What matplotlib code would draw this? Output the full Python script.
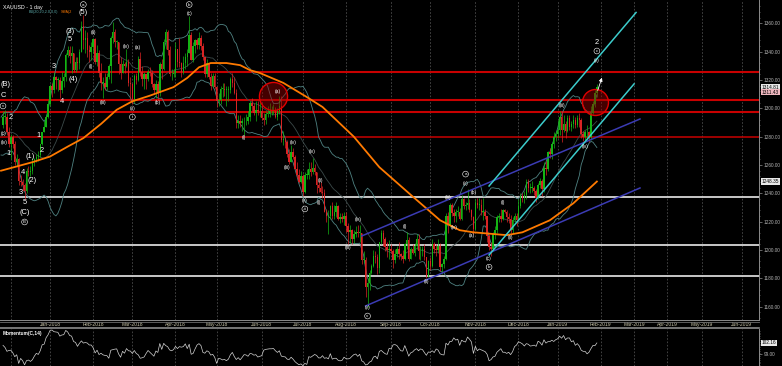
import matplotlib

matplotlib.use("Agg")

import matplotlib.pyplot as plt
import numpy as np
import pandas as pd
from matplotlib.lines import Line2D

plt.rcParams["font.family"] = ["Liberation Sans", "DejaVu Sans"]

W, H, DPI = 782, 366, 100

# ---------------------------------------------------------------------------
# data (XAUUSD daily)
# ---------------------------------------------------------------------------
HOLIDAYS = ["2017-12-25", "2018-01-01", "2018-12-25", "2019-01-01"]
FIRST_BAR = "2017-10-30"      # 20 warm-up closes for BB / momentum
FIRST_SHOWN = "2017-11-27"

closes = [
    # warm-up Oct 30 - Nov 24 2017
    1276, 1271, 1277, 1277, 1269, 1281, 1275, 1282, 1285, 1274,
    1278, 1282, 1283, 1278, 1294, 1275, 1281, 1292, 1291, 1288,
    # Nov 2017
    1294, 1294, 1283, 1275,
    # Dec 2017
    1280, 1275, 1262, 1264, 1249, 1248, 1246, 1242, 1256, 1255,
    1256, 1262, 1264, 1266, 1267, 1275, 1283, 1287, 1294, 1303,
    # Jan 2018
    1316, 1313, 1322, 1320, 1320, 1313, 1319, 1322, 1338, 1341, 1337,
    1339, 1327, 1333, 1332, 1340, 1358, 1348, 1350, 1341, 1340, 1343,
    # Feb 2018
    1349, 1333, 1339, 1325, 1318, 1318, 1315, 1322, 1330, 1350,
    1354, 1347, 1347, 1331, 1325, 1331, 1330, 1333, 1318, 1317,
    # Mar 2018
    1305, 1323, 1320, 1335, 1326, 1321, 1324, 1321, 1326, 1325, 1317,
    1313, 1317, 1311, 1331, 1328, 1347, 1354, 1341, 1324, 1324, 1325,
    # Apr 2018
    1342, 1333, 1332, 1326, 1332, 1336, 1339, 1352, 1334, 1344, 1348,
    1345, 1350, 1344, 1336, 1324, 1332, 1322, 1316, 1323, 1315,
    # May 2018
    1305, 1306, 1314, 1314, 1313, 1313, 1313, 1321, 1318, 1311, 1290, 1291,
    1290, 1291, 1291, 1291, 1294, 1304, 1302, 1297, 1299, 1298, 1298,
    # Jun 2018
    1293, 1292, 1296, 1296, 1298, 1298, 1299, 1294, 1298, 1302, 1278,
    1278, 1276, 1268, 1262, 1269, 1266, 1257, 1253, 1248, 1252,
    # Jul 2018
    1241, 1253, 1253, 1257, 1255, 1258, 1255, 1246, 1244, 1241, 1240,
    1227, 1224, 1224, 1231, 1224, 1227, 1231, 1222, 1223, 1222, 1224,
    # Aug 2018
    1217, 1213, 1214, 1208, 1211, 1213, 1212, 1212, 1193, 1193, 1174, 1177,
    1184, 1189, 1196, 1195, 1187, 1206, 1212, 1208, 1202, 1200, 1201,
    # Sep 2018
    1199, 1193, 1197, 1201, 1197, 1196, 1194, 1204, 1207, 1194,
    1201, 1198, 1203, 1208, 1199, 1199, 1201, 1195, 1182, 1192,
    # Oct 2018
    1189, 1204, 1201, 1200, 1203, 1188, 1190, 1194, 1224, 1218, 1232, 1226,
    1224, 1227, 1227, 1222, 1236, 1231, 1232, 1233, 1228, 1223, 1215,
    # Nov 2018
    1233, 1232, 1232, 1227, 1227, 1224, 1210, 1202, 1201, 1211, 1214,
    1223, 1224, 1222, 1228, 1227, 1223, 1222, 1214, 1221, 1224, 1221,
    # Dec 2018
    1231, 1238, 1237, 1239, 1248, 1244, 1244, 1244, 1242, 1237,
    1246, 1249, 1243, 1258, 1257, 1269, 1268, 1275, 1280, 1282,
    # Jan 2019
    1285, 1294, 1285, 1289, 1284, 1293, 1287, 1289, 1292, 1288, 1293,
    1292, 1282, 1280, 1283, 1283, 1280, 1297, 1303, 1311, 1314.81,
]

# highs / lows from Nov 27 2017 on
highs = [
    1298, 1299, 1297, 1287,
    1282, 1281, 1277, 1268, 1265, 1253, 1250, 1247, 1258, 1259,
    1259, 1265, 1265, 1268, 1270, 1275, 1283, 1291, 1295, 1306,
    1317, 1318, 1326, 1323, 1322, 1322, 1326, 1325, 1339, 1344, 1344,
    1344, 1339, 1336, 1336, 1342, 1362, 1366, 1355, 1354, 1345, 1347,
    1350, 1350, 1345, 1341, 1332, 1322, 1325, 1325, 1331, 1351,
    1361, 1356, 1348, 1347, 1336, 1334, 1333, 1342, 1335, 1322,
    1318, 1324, 1325, 1337, 1340, 1330, 1326, 1324, 1328, 1329, 1327,
    1318, 1320, 1319, 1333, 1335, 1349, 1356, 1355, 1344, 1328, 1328,
    1347, 1342, 1350, 1333, 1337, 1339, 1342, 1365, 1354, 1347, 1349,
    1350, 1354, 1352, 1346, 1336, 1335, 1331, 1325, 1325, 1325,
    1316, 1311, 1316, 1318, 1318, 1316, 1316, 1322, 1325, 1322, 1314, 1295,
    1295, 1293, 1294, 1296, 1298, 1305, 1307, 1304, 1305, 1305, 1306,
    1304, 1297, 1298, 1302, 1304, 1302, 1303, 1301, 1300, 1309, 1309,
    1284, 1279, 1278, 1271, 1274, 1272, 1267, 1262, 1257, 1256,
    1254, 1255, 1257, 1262, 1262, 1265, 1261, 1255, 1249, 1248, 1245,
    1243, 1229, 1228, 1232, 1234, 1232, 1234, 1232, 1226, 1226, 1227,
    1227, 1219, 1218, 1215, 1214, 1217, 1218, 1218, 1211, 1199, 1195, 1180,
    1186, 1190, 1200, 1199, 1197, 1206, 1214, 1214, 1209, 1206, 1207,
    1204, 1201, 1201, 1203, 1206, 1198, 1200, 1205, 1213, 1209,
    1202, 1204, 1205, 1211, 1211, 1203, 1203, 1204, 1195, 1193,
    1195, 1208, 1206, 1204, 1208, 1205, 1191, 1196, 1226, 1227, 1233, 1233,
    1229, 1229, 1231, 1230, 1239, 1237, 1234, 1243, 1236, 1229, 1224,
    1236, 1237, 1237, 1236, 1237, 1229, 1223, 1211, 1206, 1213, 1217,
    1225, 1226, 1229, 1229, 1229, 1228, 1226, 1225, 1223, 1226, 1226,
    1236, 1240, 1240, 1242, 1250, 1250, 1247, 1249, 1245, 1243,
    1247, 1251, 1250, 1262, 1263, 1270, 1272, 1276, 1283, 1284,
    1292, 1298, 1298, 1295, 1291, 1295, 1295, 1291, 1295, 1294, 1295,
    1297, 1293, 1284, 1285, 1288, 1284, 1302, 1305, 1313, 1317,
]
lows = [
    1286, 1289, 1281, 1273,
    1264, 1272, 1260, 1260, 1246, 1245, 1242, 1236, 1240, 1252,
    1252, 1254, 1259, 1262, 1263, 1266, 1274, 1283, 1287, 1293,
    1302, 1308, 1311, 1314, 1312, 1307, 1311, 1315, 1319, 1336, 1332,
    1325, 1326, 1326, 1327, 1328, 1340, 1342, 1339, 1336, 1333, 1334,
    1339, 1331, 1330, 1322, 1313, 1307, 1313, 1313, 1321, 1318,
    1346, 1343, 1342, 1324, 1321, 1325, 1325, 1329, 1316, 1307,
    1303, 1304, 1317, 1319, 1323, 1316, 1314, 1314, 1319, 1323, 1315,
    1310, 1307, 1306, 1309, 1321, 1327, 1342, 1338, 1323, 1320, 1322,
    1322, 1329, 1329, 1322, 1324, 1328, 1330, 1339, 1334, 1333, 1339,
    1342, 1342, 1341, 1334, 1322, 1322, 1321, 1313, 1315, 1314,
    1301, 1302, 1303, 1308, 1309, 1302, 1305, 1311, 1315, 1310, 1286, 1286,
    1287, 1284, 1281, 1288, 1289, 1291, 1298, 1295, 1291, 1295, 1294,
    1292, 1288, 1289, 1294, 1294, 1295, 1296, 1293, 1292, 1296, 1276,
    1274, 1272, 1266, 1261, 1262, 1264, 1257, 1251, 1247, 1247,
    1238, 1240, 1250, 1250, 1252, 1254, 1253, 1240, 1241, 1240, 1237,
    1227, 1220, 1211, 1222, 1222, 1222, 1223, 1221, 1219, 1220, 1218,
    1213, 1204, 1205, 1204, 1205, 1209, 1209, 1206, 1190, 1191, 1167, 1160,
    1172, 1183, 1188, 1191, 1183, 1184, 1204, 1203, 1199, 1195, 1194,
    1198, 1187, 1191, 1195, 1194, 1193, 1191, 1193, 1201, 1192,
    1194, 1197, 1196, 1201, 1194, 1193, 1196, 1193, 1180, 1181,
    1186, 1188, 1198, 1196, 1198, 1185, 1183, 1187, 1193, 1212, 1216, 1224,
    1220, 1220, 1224, 1221, 1221, 1229, 1228, 1229, 1227, 1221, 1211,
    1214, 1230, 1228, 1225, 1221, 1222, 1206, 1200, 1196, 1200, 1208,
    1212, 1220, 1220, 1221, 1226, 1220, 1219, 1212, 1212, 1220, 1217,
    1222, 1230, 1234, 1233, 1236, 1241, 1240, 1241, 1239, 1234,
    1236, 1244, 1238, 1241, 1253, 1256, 1265, 1264, 1272, 1277,
    1279, 1281, 1276, 1283, 1279, 1283, 1285, 1284, 1286, 1286, 1287,
    1287, 1279, 1277, 1277, 1279, 1276, 1278, 1296, 1301, 1308,
]

# orange SMA, sampled off the chart
sma_dates = [
    "2017-11-24", "2017-12-18", "2018-01-02", "2018-01-15", "2018-01-25",
    "2018-02-07", "2018-02-19", "2018-03-01", "2018-03-14", "2018-03-21",
    "2018-03-30", "2018-04-10", "2018-04-18", "2018-04-26", "2018-05-08",
    "2018-05-17", "2018-05-24", "2018-05-31", "2018-06-18", "2018-07-04",
    "2018-07-16", "2018-08-07", "2018-08-24", "2018-09-17", "2018-10-08",
    "2018-10-22", "2018-10-31", "2018-11-23", "2018-12-05", "2018-12-26",
    "2019-01-14", "2019-01-30",
]
sma_vals = [
    1256, 1262, 1266, 1273, 1279, 1289, 1299, 1305, 1309, 1311.5,
    1315, 1321.5, 1329, 1332, 1332, 1330.5, 1327, 1325, 1318, 1308,
    1301, 1280, 1258.5, 1239, 1221, 1214, 1212.5, 1210.5, 1212.5, 1221,
    1233, 1248.35,
]

red_levels = [1325.9, 1305.9, 1297.6, 1279.6]
white_levels = [1237.2, 1203.6, 1181.9]

blue_lines = [
    (("2018-08-13", 1209.9), ("2019-03-01", 1292.5)),
    (("2018-08-15", 1160.5), ("2019-03-01", 1243.8)),
]
cyan_lines = [
    (("2018-11-12", 1245.2), ("2019-02-27", 1367.7)),
    (("2018-11-12", 1196.5), ("2019-02-26", 1317.3)),
]
red_circles = [("2018-06-11", 1308.7), ("2019-01-29", 1304.5)]
arrow_from = ("2019-01-30", 1310.8)
arrow_to = ("2019-02-04", 1323.5)

# labels sitting on the left edge of the chart
edge_labels = [("(B)", 1316.5, 5.4), ("(c)", 1282.6, 3.6), ("(iv)", 1275.6, 3.6)]
big_labels = [
    ("C", "2017-11-27", 1309.4),
    ("2", "2017-12-01", 1293.9), ("1", "2017-11-30", 1267.8),
    ("(1)", "2017-12-15", 1265.7), ("4", "2017-12-11", 1255.0),
    ("(2)", "2017-12-18", 1249.4), ("3", "2017-12-08", 1240.3),
    ("5", "2017-12-12", 1233.9), ("(C)", "2017-12-12", 1226.8),
    ("1", "2017-12-21", 1280.5), ("2", "2017-12-26", 1270.6),
    ("3", "2018-01-04", 1329.9), ("4", "2018-01-10", 1305.2),
    ("(4)", "2018-01-18", 1320.7), ("(3)", "2018-01-16", 1354.6),
    ("5", "2018-01-16", 1348.3), ("(5)", "2018-01-25", 1367.4),
    ("2", "2019-01-30", 1346.8),
]
circled_labels = [
    ("a", "2018-01-25", 1373.3), ("v", "2017-11-27", 1301.7),
    ("B", "2017-12-12", 1219.8), ("i", "2018-03-01", 1293.9),
    ("b", "2018-04-11", 1373.3), ("iii", "2018-07-03", 1229.0),
    ("v", "2018-08-16", 1153.4), ("a", "2018-10-25", 1253.6),
    ("b", "2018-11-12", 1187.9), ("c", "2019-01-30", 1340.5),
]
small_labels = [
    ("(ii)", "2018-02-01", 1353.9), ("(i)", "2018-01-31", 1329.9),
    ("(iii)", "2018-02-08", 1303.8), ("(iv)", "2018-02-26", 1344.0),
    ("(a)", "2018-03-06", 1343.3), ("(v)", "2018-03-01", 1300.2),
    ("(b)", "2018-03-20", 1303.8), ("(c)", "2018-04-11", 1367.2),
    ("(i)", "2018-05-21", 1279.1), ("(a)", "2018-06-13", 1312.2),
    ("(iv)", "2018-06-25", 1275.6), ("(iii)", "2018-06-20", 1258.6),
    ("(v)", "2018-07-03", 1235.3), ("(iv)", "2018-07-09", 1269.9),
    ("(ii)", "2018-07-13", 1249.4), ("(i)", "2018-07-12", 1233.2),
    ("(iv)", "2018-08-09", 1221.2), ("(iii)", "2018-08-02", 1202.1),
    ("(v)", "2018-08-16", 1159.4), ("(i)", "2018-09-12", 1216.9),
    ("(ii)", "2018-09-27", 1178.1), ("(iii)", "2018-10-12", 1237.4),
    ("(iv)", "2018-10-17", 1216.2), ("(v)", "2018-10-25", 1247.3),
    ("(b)", "2018-10-31", 1240.9), ("(a)", "2018-10-30", 1209.9),
    ("(i)", "2018-11-21", 1233.9), ("(c)", "2018-11-12", 1194.3),
    ("(ii)", "2018-11-27", 1208.5), ("(iii)", "2019-01-04", 1301.7),
    ("(iv)", "2019-01-22", 1273.4), ("(v)", "2019-01-30", 1334.1),
]

future_months = ["Mar-2019", "Apr-2019", "May-2019", "Jun-2019"]

# ---------------------------------------------------------------------------
# calendar: one x unit per trading day
# ---------------------------------------------------------------------------
cal = pd.bdate_range(FIRST_BAR, "2019-06-28")
cal = cal[~cal.isin(pd.to_datetime(HOLIDAYS))]
pos = {d.strftime("%Y-%m-%d"): i for i, d in enumerate(cal)}


def bx(d):
    return pos[d]


n = len(closes)
start = bx(FIRST_SHOWN)
assert len(highs) == len(lows) == n - start
assert cal[n - 1].strftime("%Y-%m-%d") == "2019-01-30"

c = np.array(closes, dtype=float)
s = pd.Series(c)
mid = s.rolling(20).mean()
sd = s.rolling(20).std(ddof=0)
bb_up, bb_dn = mid + 2 * sd, mid - 2 * sd
mom = 100 * s / s.shift(14)

x = np.arange(start, n)
o = c[start - 1:n - 1]
cl = c[start:]
hi = np.maximum(np.array(highs, float), np.maximum(o, cl))
lo = np.minimum(np.array(lows, float), np.minimum(o, cl))

# ---------------------------------------------------------------------------
# layout (pixel geometry of the reference)
# ---------------------------------------------------------------------------
BAR_PX = 1.96
AX_W = 759
MAIN_BOTTOM = 320
MOM_TOP = 329
xlim = (start - 3 / BAR_PX, start + (AX_W - 3) / BAR_PX)

fig = plt.figure(figsize=(W / DPI, H / DPI), dpi=DPI, facecolor="black")
ax = fig.add_axes([0, 1 - MAIN_BOTTOM / H, AX_W / W, MAIN_BOTTOM / H])
axm = fig.add_axes([0, 0, AX_W / W, (H - MOM_TOP) / H])
for a in (ax, axm):
    a.set_facecolor("black")
    for sp in ("top", "left", "bottom"):
        a.spines[sp].set_visible(False)
    a.spines["right"].set_color("#8c8c8c")
    a.spines["right"].set_linewidth(0.7)
    a.set_xlim(*xlim)

ax.set_ylim(1150.6, 1376.5)
axm.set_ylim(95.8, 106.0)

# month grid + date labels
month_pos, month_lab = [], []
for d in pd.date_range("2017-12-01", "2019-02-01", freq="MS"):
    first = cal[cal >= d][0]
    month_pos.append(pos[first.strftime("%Y-%m-%d")])
    month_lab.append(d.strftime("%b-%Y"))
fut_pos = [start + (px - 3) / BAR_PX for px in (634, 667, 702, 742)]
grid_pos = month_pos + fut_pos
for a in (ax, axm):
    for gx in grid_pos:
        a.axvline(gx, color="#4c4c4c", lw=0.6, ls=(0, (2, 2)), zorder=0)

ax.set_xticks(month_pos[1:] + fut_pos)
ax.set_xticklabels(month_lab[1:] + future_months)
ax.tick_params(axis="x", length=0, pad=1.4, labelsize=3.6, labelcolor="#c8c4a8")
axm.set_xticks([])

# price axis on the right
ax.yaxis.tick_right()
ax.set_yticks(np.arange(1160, 1361, 20))
ax.set_yticks(np.arange(1152, 1376, 4), minor=True)
ax.yaxis.set_major_formatter(matplotlib.ticker.FormatStrFormatter("%.2f"))
ax.tick_params(axis="y", which="major", length=2, width=0.5, color="#8c8c8c",
               labelsize=3.4, labelcolor="#b4b4b4", pad=1.2)
ax.tick_params(axis="y", which="minor", length=1, width=0.4, color="#8c8c8c")
axm.yaxis.tick_right()
axm.set_yticks([99])
axm.set_yticks(np.arange(96, 106, 0.5), minor=True)
axm.yaxis.set_major_formatter(matplotlib.ticker.FormatStrFormatter("%.2f"))
axm.tick_params(axis="y", which="major", length=2, width=0.5, color="#8c8c8c",
                labelsize=3.4, labelcolor="#b4b4b4", pad=1.2)
axm.tick_params(axis="y", which="minor", length=1, width=0.4, color="#8c8c8c")

# horizontal levels
for lvl in red_levels:
    ax.axhline(lvl, color="#c80000", lw=1.5 if lvl != red_levels[-1] else 1.1, zorder=1)
for lvl in white_levels:
    ax.axhline(lvl, color="#d8d8d8", lw=1.3, zorder=1)

# Bollinger bands
bx_all = np.arange(n)
vis = bx_all >= start - 2
ax.plot(bx_all[vis], bb_up[vis], color="#4f8282", lw=0.6, zorder=2)
ax.plot(bx_all[vis], bb_dn[vis], color="#4f8282", lw=0.6, zorder=2)
ax.plot(bx_all[vis], mid[vis], color="#3c4a4a", lw=0.6, zorder=2)

# candles
up = cl >= o
col = np.where(up, "#14b414", "#d82424")
ax.vlines(x, lo, hi, colors=col, lw=0.5, zorder=3)
body = np.maximum(np.abs(cl - o), 0.4)
ax.bar(x, body, bottom=np.minimum(o, cl), width=0.75, color=col, lw=0, zorder=3)

# SMA
ax.plot([bx(d) for d in sma_dates], sma_vals, color="#ff7a00", lw=1.3, zorder=4)

# channels
for (d0, p0), (d1, p1) in blue_lines:
    ax.plot([bx(d0), bx(d1)], [p0, p1], color="#3b3bb4", lw=1.1, zorder=4)
for (d0, p0), (d1, p1) in cyan_lines:
    ax.plot([bx(d0), bx(d1)], [p0, p1], color="#3ccccc", lw=1.1, zorder=4)

# red circles + arrow
for (d, p), size in zip(red_circles, (410, 350)):
    ax.scatter(bx(d), p, s=size, facecolor=(0.6, 0.0, 0.0, 0.45),
               edgecolor="#e00000", lw=1.0, zorder=5)
ax.annotate("", xy=(bx(arrow_to[0]), arrow_to[1]),
            xytext=(bx(arrow_from[0]), arrow_from[1]),
            arrowprops=dict(arrowstyle="-|>", color="white", lw=0.6,
                            mutation_scale=5), zorder=6)

# wave labels
xtr = ax.get_yaxis_transform()
for t, p, fs in edge_labels:
    ax.text(0.5 / AX_W, p, t, transform=xtr, color="white", fontsize=fs,
            ha="left", va="center", zorder=7)
for t, d, p in big_labels:
    ax.text(bx(d), p, t, color="white", fontsize=5.4, ha="center", va="center", zorder=7)
for t, d, p in small_labels:
    ax.text(bx(d), p, t, color="white", fontsize=3.6, ha="center", va="center", zorder=7)
for t, d, p in circled_labels:
    ax.text(bx(d), p, t, color="white", fontsize=3.2, ha="center", va="center", zorder=7,
            bbox=dict(boxstyle="circle,pad=0.2", fc="none", ec="white", lw=0.4))

# value tags on the price axis
for val, fc in ((1314.81, "#e8e8e8"), (1311.43, "#f0b8c0"), (1248.35, "#e8e8e8")):
    ax.text(1.004, val, f"{val:.2f}", transform=xtr, fontsize=3.4, color="black",
            ha="left", va="center", clip_on=False,
            bbox=dict(boxstyle="square,pad=0.15", fc=fc, ec="none"))

# momentum
mvis = bx_all >= start
axm.plot(bx_all[mvis], mom[mvis], color="#d4d4d4", lw=0.5)
axm.text(1.004, mom.iloc[-1], f"{mom.iloc[-1]:.2f}", transform=axm.get_yaxis_transform(),
         fontsize=3.4, color="black", ha="left", va="center", clip_on=False,
         bbox=dict(boxstyle="square,pad=0.15", fc="#e8e8e8", ec="none"))
axm.text(3 / AX_W, 1 - 5 / (H - MOM_TOP), "Momentum(C,14)", transform=axm.transAxes,
         color="white", fontsize=3.4, fontweight="bold", va="center")

# separators between panels
for ypx, lw, colr in ((MAIN_BOTTOM, 0.7, "#8c8c8c"), (321.8, 0.6, "#6c6c6c"),
                      (328.3, 1.2, "#8c8c8c")):
    fig.add_artist(Line2D([0, AX_W / W], [1 - ypx / H] * 2, color=colr, lw=lw,
                          transform=fig.transFigure))

# titles
fig.text(3 / W, 1 - 7 / H, "XAUUSD - 1 day", color="white", fontsize=3.8, va="center")
bb_txt = fig.text(29 / W, 1 - 12.5 / H, "BB(20,20,2.0,0,0)", color="#5aa8a8",
                  fontsize=2.7, va="center")
fig.canvas.draw()
bb_end = bb_txt.get_window_extent().x1 + 2
fig.text(bb_end / W, 1 - 12.5 / H, "SMA(2", color="#ff7a00", fontsize=2.7, va="center")

fig.savefig("out.png", dpi=DPI, facecolor="black")
